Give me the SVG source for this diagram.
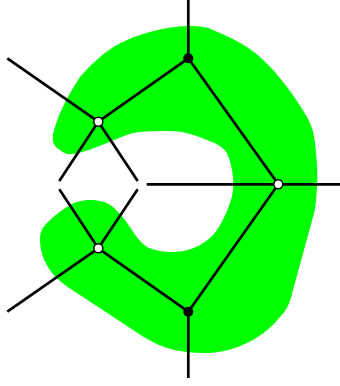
<svg xmlns="http://www.w3.org/2000/svg" width="340" height="386" viewBox="0 0 340 386">
<style>
.edge{stroke:#000;stroke-width:2.7;fill:none}
.wn{fill:#fff;stroke:#000;stroke-width:1.5}
.bn{fill:#000}
</style>
<rect width="340" height="386" fill="#fff"/>
<path id="region" fill="#00ff00" d="M 60,150 C 52,146 51,138 55,127 C 60,110 70,92 80,77 C 95,60 110,47 127,40 C 145,32 170,26 190,26 C 200,26 207,27 213,30 C 230,37 247,45 260,57 C 280,75 296,98 307,117 C 313,128 314,135 315,143 C 317,160 318,175 317,187 C 316,200 316,208 313,217 L 293,290 C 290,303 287,310 280,317 C 272,327 263,334 253,340 C 238,348 222,353 207,353 C 193,353 180,352 167,348 C 155,344 145,338 133,330 L 83,297 C 68,287 56,280 50,270 C 43,260 40,250 40,240 C 40,232 42,228 47,223 C 53,217 60,211 67,207 C 74,202 82,200 90,200 C 100,200 107,202 113,207 C 120,213 125,220 130,227 C 135,235 140,242 147,247 C 155,251 165,252 173,252 C 183,252 193,249 200,245 C 207,241 213,236 217,230 C 222,222 227,212 230,203 C 233,195 234,185 233,177 C 232,168 230,160 227,153 C 222,146 215,143 207,140 C 195,135 183,131 170,131 C 158,131 145,131 133,133 C 122,136 115,140 107,143 C 95,148 84,152 73,154 C 68,155 63,153 60,150 Z"/>
<g id="connectors">
<line class="edge" x1="188.3" y1="0" x2="188.3" y2="58.3"/>
<line class="edge" x1="188.3" y1="311.7" x2="188.3" y2="378"/>
<line class="edge" x1="146.7" y1="184.3" x2="340" y2="184.3"/>
<line class="edge" x1="98.3" y1="121.7" x2="7.3" y2="58.3"/>
<line class="edge" x1="98.3" y1="248.3" x2="7.3" y2="311.7"/>
<line class="edge" x1="98.3" y1="121.7" x2="188.3" y2="58.3"/>
<line class="edge" x1="98.3" y1="248.3" x2="188.3" y2="311.7"/>
<line class="edge" x1="188.3" y1="58.3" x2="278.3" y2="184.3"/>
<line class="edge" x1="278.3" y1="184.3" x2="188.3" y2="311.7"/>
<line class="edge" x1="98.3" y1="121.7" x2="59.3" y2="181"/>
<line class="edge" x1="98.3" y1="121.7" x2="137.7" y2="181"/>
<line class="edge" x1="98.3" y1="248.3" x2="59.3" y2="189.3"/>
<line class="edge" x1="98.3" y1="248.3" x2="137.7" y2="189.3"/>
</g>
<g id="n-top"><circle class="bn" cx="188.3" cy="58.3" r="5"/></g>
<g id="n-bottom"><circle class="bn" cx="188.3" cy="311.7" r="5"/></g>
<g id="n-right"><circle class="wn" cx="278.3" cy="184.3" r="4.5"/></g>
<g id="n-upper-left"><circle class="wn" cx="98.3" cy="121.7" r="4.5"/></g>
<g id="n-lower-left"><circle class="wn" cx="98.3" cy="248.3" r="4.5"/></g>
</svg>
